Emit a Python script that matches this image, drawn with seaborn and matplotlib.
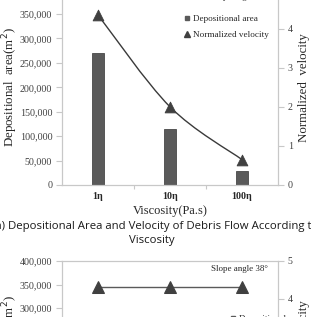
import numpy as np
import pandas as pd
import matplotlib
matplotlib.use("Agg")
import matplotlib.pyplot as plt
import seaborn as sns
from matplotlib.path import Path
from matplotlib.patches import PathPatch
from matplotlib.lines import Line2D

# ---------------- data ----------------
categories = ["1η", "10η", "100η"]
depositional_area = [270000, 115000, 28000]
normalized_velocity = [4.35, 2.0, 0.65]
slope_velocity = [4.3, 4.3, 4.3]
area_ticks = [0, 50000, 100000, 150000, 200000, 250000, 300000, 350000, 400000]
velocity_ticks = [0, 1, 2, 3, 4, 5]
slope_label = "Slope angle 38°"
caption_line1 = "(a) Depositional Area and Velocity of Debris Flow According to the"
caption_line2 = "Viscosity"

# ---------------- style ----------------
sns.set_theme(style="white")
plt.rcParams["font.family"] = ["Liberation Serif", "DejaVu Serif"]
SPINE = "#c8c8c8"
TICKC = "#404040"
LABELC = "#262626"
BARC = "#5a5a5a"
MARKC = "#404040"

W, H = 311, 317
fig = plt.figure(figsize=(W / 100, H / 100), dpi=100)


def px_axes(l, t, r, b):
    return fig.add_axes([l / W, 1 - b / H, (r - l) / W, (b - t) / H])


def style_axes(ax, ax2):
    for a in (ax, ax2):
        for s in a.spines.values():
            s.set_color(SPINE)
            s.set_linewidth(0.8)
    ax.set_ylim(area_ticks[0], area_ticks[-1])
    ax.set_yticks(area_ticks)
    ax.set_yticklabels([f"{v:,}" for v in area_ticks])
    ax2.set_ylim(velocity_ticks[0], velocity_ticks[-1])
    ax2.set_yticks(velocity_ticks)
    ax.tick_params(axis="y", which="major", left=True, length=4, width=0.8,
                   color=SPINE, labelsize=7.2, labelcolor=TICKC, pad=3)
    ax2.tick_params(axis="y", which="major", right=True, length=4, width=0.8,
                    color=SPINE, labelsize=7.2, labelcolor=TICKC, pad=3)
    ax.set_xlim(-0.5, len(categories) - 0.5)
    ax.set_xticks(np.arange(len(categories)))
    ax.set_xticks(np.arange(len(categories) + 1)[1:-1] - 0.5, minor=True)
    ax.tick_params(axis="x", which="major", length=0, labelsize=7.2,
                   labelcolor=LABELC, pad=5)
    ax.tick_params(axis="x", which="minor", bottom=True, length=3, width=0.8,
                   color=SPINE)
    ax.set_xticklabels(categories, fontweight="bold")
    ax.set_ylabel("Depositional  area(m$^2$)", fontsize=9.3, color=LABELC)
    ax2.set_ylabel("Normalized  velocity", fontsize=9.3, color=LABELC)
    ax.yaxis.label.set_va("center")
    ax2.yaxis.label.set_va("center")
    ax.yaxis.set_label_coords((10 - 62) / 216, 0.5)
    ax2.yaxis.set_label_coords((304 - 62) / 216, 0.5)


# ---------------- top chart ----------------
ax = px_axes(62, -10.4, 278, 185)
ax2 = ax.twinx()
xpos = np.arange(len(categories))

sns.barplot(x=categories, y=depositional_area, ax=ax, width=0.18, color=BARC,
            saturation=1, edgecolor="#484848", linewidth=0.6)

# smoothed connecting line (Bezier through the data points)
pts = np.column_stack([xpos, normalized_velocity]).astype(float)
verts = [tuple(pts[0])]
codes = [Path.MOVETO]
for i in range(len(pts) - 1):
    p_prev = pts[i - 1] if i > 0 else pts[i]
    p_next = pts[i + 2] if i + 2 < len(pts) else pts[i + 1]
    c1 = pts[i] + (pts[i + 1] - p_prev) / 6
    c2 = pts[i + 1] - (p_next - pts[i]) / 6
    verts += [tuple(c1), tuple(c2), tuple(pts[i + 1])]
    codes += [Path.CURVE4] * 3
ax2.add_patch(PathPatch(Path(verts, codes), facecolor="none",
                        edgecolor="#3a3a3a", linewidth=1.0, zorder=3))
sns.scatterplot(x=xpos, y=normalized_velocity, ax=ax2, marker="^", s=60,
                color=MARKC, edgecolor=MARKC, zorder=4, legend=False)
style_axes(ax, ax2)
ax.set_xlabel("Viscosity(Pa.s)", fontsize=8.9, color=LABELC, labelpad=3)

ax2.text(0.955, 0.96, slope_label, transform=ax2.transAxes, ha="right",
         va="center", fontsize=6.5, color=LABELC)
handles = [Line2D([], [], marker="s", linestyle="none", color=BARC, markersize=3.5),
           Line2D([], [], marker="^", linestyle="none", color=MARKC, markersize=4)]
ax2.legend(handles, ["Depositional area", "Normalized velocity"],
           loc="upper left", bbox_to_anchor=((180 - 62) / 216, (185 - 10) / 195.4),
           frameon=False, fontsize=6.6, handlelength=0.6, handletextpad=0.3,
           labelspacing=0.85, borderpad=0, labelcolor=LABELC)

# ---------------- caption ----------------
fig.text(-8 / W, 1 - 226 / H, caption_line1, ha="left", va="center",
         fontsize=8.2, family="Open Sans", color="#1a1a1a")
fig.text(152 / W, 1 - 241 / H, caption_line2, ha="center", va="center",
         fontsize=8.2, family="Open Sans", color="#1a1a1a")

# ---------------- bottom chart ----------------
bx = px_axes(62, 261, 278, 449)
bx2 = bx.twinx()
sns.lineplot(x=xpos, y=slope_velocity, ax=bx2, color="#5a5a5a", linewidth=1.0,
             marker="^", markersize=8, markerfacecolor=MARKC,
             markeredgecolor=MARKC)
style_axes(bx, bx2)
bx.set_xlabel("Viscosity(Pa.s)", fontsize=8.9, color=LABELC)
bx2.text(0.955, 0.955, slope_label, transform=bx2.transAxes, ha="right",
         va="center", fontsize=6.5, color=LABELC)
bx2.legend(handles, ["Depositional area", "Normalized velocity"],
           loc="upper left", bbox_to_anchor=((226 - 62) / 216, 1 - 49 / 188),
           frameon=False, fontsize=6.6, handlelength=0.6, handletextpad=0.3,
           labelspacing=0.85, borderpad=0, labelcolor=LABELC)

fig.savefig("out.png", dpi=100)
